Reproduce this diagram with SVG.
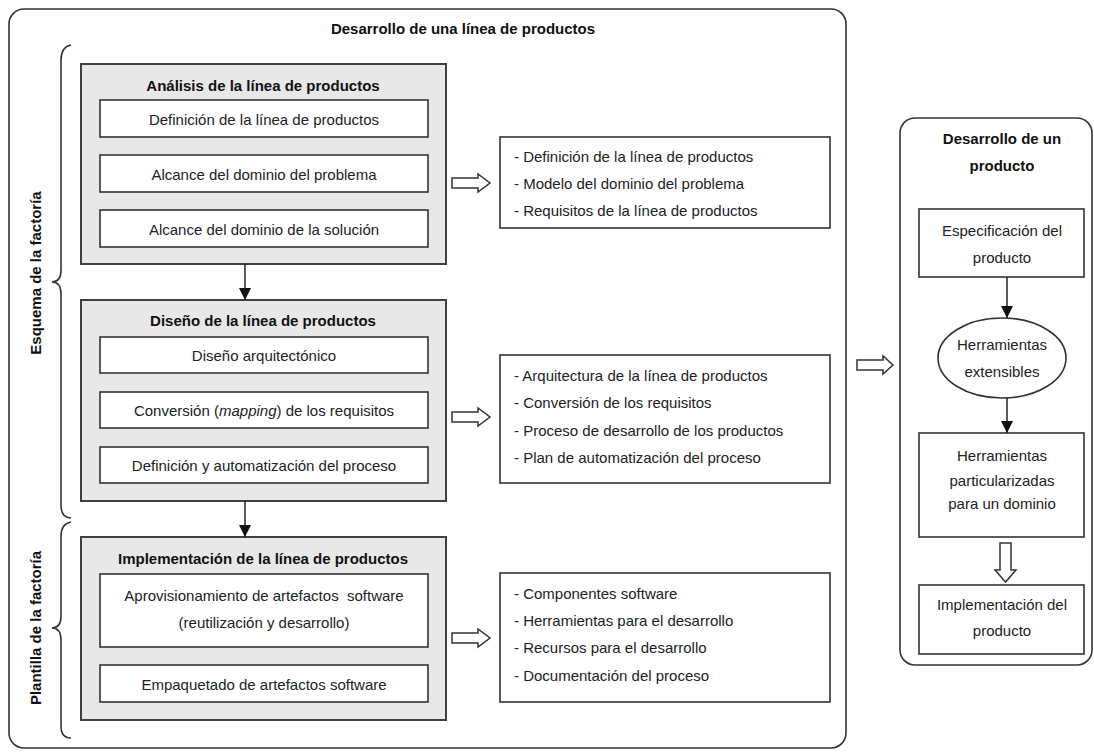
<svg xmlns="http://www.w3.org/2000/svg" width="1094" height="753" viewBox="0 0 1094 753">
  <style>
    .frame { fill: #ffffff; stroke: #333333; stroke-width: 1.6; }
    .stage { fill: #e8e8e8; stroke: #404040; stroke-width: 2; }
    .box { fill: #ffffff; stroke: #333333; stroke-width: 1.6; }
    .brace { fill: none; stroke: #333333; stroke-width: 1.6; }
    .hollow { fill: #ffffff; stroke: #333333; stroke-width: 1.5; stroke-linejoin: miter; }
    .link { fill: none; stroke: #222222; stroke-width: 1.5; }
    text { font-family: "Liberation Sans", Arial, sans-serif; font-size: 15px; fill: #222222; }
    .t { text-anchor: middle; dominant-baseline: central; }
    .b { font-weight: bold; fill: #111111; }
    .l { dominant-baseline: central; }
  </style>
  <defs>
    <marker id="tip" viewBox="0 0 12 12" refX="12" refY="6" markerWidth="12" markerHeight="12" markerUnits="userSpaceOnUse" orient="auto">
      <path d="M0,0 L12,6 L0,12 Z" fill="#111111"/>
    </marker>
  </defs>

  <!-- product line development frame -->
  <g id="product-line">
    <rect class="frame" x="9" y="9" width="837" height="739" rx="15"/>
    <text class="t b" x="463" y="28">Desarrollo de una línea de productos</text>
  </g>

  <!-- braces and side labels -->
  <g id="factory-schema">
    <path class="brace" d="M71,45 Q61,47 61,60 L61,270 Q61,282 52,282 Q61,282 61,294 L61,505 Q61,518 71,518"/>
    <text class="t b" transform="translate(35,273) rotate(-90)">Esquema de la factoría</text>
  </g>
  <g id="factory-template">
    <path class="brace" d="M71,522 Q61,524 61,536 L61,616 Q61,628 52,628 Q61,628 61,640 L61,726 Q61,738 71,738"/>
    <text class="t b" transform="translate(35,628) rotate(-90)">Plantilla de la factoría</text>
  </g>

  <!-- analysis stage -->
  <g id="analysis">
    <rect class="stage" x="81" y="64" width="365" height="200"/>
    <text class="t b" x="263" y="85">Análisis de la línea de productos</text>
    <rect class="box" x="100" y="100" width="328" height="37"/>
    <text class="t" x="264" y="119">Definición de la línea de productos</text>
    <rect class="box" x="100" y="155" width="328" height="37"/>
    <text class="t" x="264" y="174">Alcance del dominio del problema</text>
    <rect class="box" x="100" y="210" width="328" height="37"/>
    <text class="t" x="264" y="229">Alcance del dominio de la solución</text>
  </g>
  <g id="analysis-output">
    <rect class="box" x="500" y="137" width="330" height="91"/>
    <text class="l" x="514" y="156">- Definición de la línea de productos</text>
    <text class="l" x="514" y="183">- Modelo del dominio del problema</text>
    <text class="l" x="514" y="210">- Requisitos de la línea de productos</text>
  </g>

  <!-- design stage -->
  <g id="design">
    <rect class="stage" x="81" y="300" width="365" height="201"/>
    <text class="t b" x="263" y="320">Diseño de la línea de productos</text>
    <rect class="box" x="100" y="337" width="328" height="36"/>
    <text class="t" x="264" y="355">Diseño arquitectónico</text>
    <rect class="box" x="100" y="392" width="328" height="36"/>
    <text class="t" x="264" y="410">Conversión (<tspan font-style="italic">mapping</tspan>) de los requisitos</text>
    <rect class="box" x="100" y="447" width="328" height="36"/>
    <text class="t" x="264" y="465">Definición y automatización del proceso</text>
  </g>
  <g id="design-output">
    <rect class="box" x="500" y="355" width="330" height="128"/>
    <text class="l" x="514" y="375">- Arquitectura de la línea de productos</text>
    <text class="l" x="514" y="402">- Conversión de los requisitos</text>
    <text class="l" x="514" y="430">- Proceso de desarrollo de los productos</text>
    <text class="l" x="514" y="457">- Plan de automatización del proceso</text>
  </g>

  <!-- implementation stage -->
  <g id="implementation">
    <rect class="stage" x="81" y="537" width="365" height="183"/>
    <text class="t b" x="263" y="558">Implementación de la línea de productos</text>
    <rect class="box" x="100" y="574" width="328" height="73"/>
    <text class="t" x="264" y="595" xml:space="preserve">Aprovisionamiento de artefactos  software</text>
    <text class="t" x="264" y="622">(reutilización y desarrollo)</text>
    <rect class="box" x="100" y="665" width="328" height="37"/>
    <text class="t" x="264" y="684">Empaquetado de artefactos software</text>
  </g>
  <g id="implementation-output">
    <rect class="box" x="500" y="573" width="330" height="129"/>
    <text class="l" x="514" y="593">- Componentes software</text>
    <text class="l" x="514" y="620">- Herramientas para el desarrollo</text>
    <text class="l" x="514" y="647">- Recursos para el desarrollo</text>
    <text class="l" x="514" y="675">- Documentación del proceso</text>
  </g>

  <!-- single product development -->
  <g id="product">
    <rect class="frame" x="900" y="118" width="192" height="547" rx="15"/>
    <text class="t b" x="1002" y="138">Desarrollo de un</text>
    <text class="t b" x="1002" y="165">producto</text>
  </g>
  <g id="spec">
    <rect class="box" x="919" y="209" width="165" height="68"/>
    <text class="t" x="1002" y="230">Especificación del</text>
    <text class="t" x="1002" y="257">producto</text>
  </g>
  <g id="extensible-tools">
    <ellipse class="box" cx="1002" cy="358" rx="64" ry="40"/>
    <text class="t" x="1002" y="344">Herramientas</text>
    <text class="t" x="1002" y="371">extensibles</text>
  </g>
  <g id="domain-tools">
    <rect class="box" x="919" y="433" width="165" height="104"/>
    <text class="t" x="1002" y="455">Herramientas</text>
    <text class="t" x="1002" y="480">particularizadas</text>
    <text class="t" x="1002" y="503">para un dominio</text>
  </g>
  <g id="product-impl">
    <rect class="box" x="919" y="585" width="165" height="69"/>
    <text class="t" x="1002" y="604">Implementación del</text>
    <text class="t" x="1002" y="630">producto</text>
  </g>

  <!-- connectors -->
  <g id="connectors">
    <line class="link" x1="245" y1="264" x2="245" y2="300" marker-end="url(#tip)"/>
    <line class="link" x1="245" y1="501" x2="245" y2="537" marker-end="url(#tip)"/>
    <line class="link" x1="1007" y1="277" x2="1007" y2="318" marker-end="url(#tip)"/>
    <line class="link" x1="1007" y1="398" x2="1007" y2="433" marker-end="url(#tip)"/>
    <polygon class="hollow" points="452,178 478,178 478,174 490,183 478,192 478,188 452,188"/>
    <polygon class="hollow" points="452,412 478,412 478,408 490,417 478,426 478,422 452,422"/>
    <polygon class="hollow" points="452,633 478,633 478,629 490,638 478,647 478,643 452,643"/>
    <polygon class="hollow" points="857,360 883,360 883,356 893,365 883,374 883,370 857,370"/>
    <polygon class="hollow" points="1000,543 1011,543 1011,570 1016,570 1005.5,582 995,570 1000,570"/>
  </g>
</svg>
